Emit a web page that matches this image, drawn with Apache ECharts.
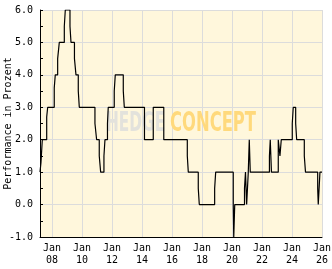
<!DOCTYPE html>
<html>
<head>
<meta charset="utf-8">
<script src="https://cdn.jsdelivr.net/npm/echarts@6/dist/echarts.min.js"></script>
<style>
html,body{margin:0;padding:0;background:#fff;}
#c{width:332px;height:269px;}
</style>
</head>
<body>
<div id="c"></div>
<script>
// Change points of the performance line (value holds until the next date)
const dates = [
  '2007-03-15','2007-04-08','2007-05-10','2007-08-25','2007-09-18',
  '2008-02-25','2008-03-21','2008-05-18','2008-06-27','2008-10-27','2008-11-20',
  '2009-03-14','2009-04-08','2009-07-01','2009-08-07','2009-10-02','2009-10-27',
  '2010-11-12','2010-12-23','2011-02-25','2011-03-31','2011-06-19','2011-07-14',
  '2011-09-13','2011-10-02','2012-02-25','2012-03-21','2012-10-02','2012-10-27',
  '2014-03-02','2014-10-02','2015-06-15',
  '2017-01-08','2017-02-01','2017-10-02','2017-10-27',
  '2018-11-05','2018-11-30',
  '2020-02-01','2020-02-13','2020-03-08','2020-11-01','2020-11-25','2020-12-23',
  '2021-02-01','2021-02-25','2021-03-21',
  '2022-07-01','2022-07-21','2022-08-19',
  '2023-02-01','2023-03-14','2023-04-15',
  '2024-01-08','2024-02-01','2024-03-31','2024-04-24','2024-10-27','2024-11-25',
  '2025-09-18','2025-10-02','2025-11-12','2026-01-01'
];
const values = [
  1.0, 1.3, 2.0, 2.7, 3.0,
  3.6, 4.0, 4.5, 5.0, 5.5, 6.0,
  5.5, 5.0, 4.5, 4.0, 3.5, 3.0,
  2.5, 2.0, 1.5, 1.0, 1.5, 2.0,
  2.5, 3.0, 3.5, 4.0, 3.5, 3.0,
  2.0, 3.0, 2.0,
  1.5, 1.0, 0.5, 0.0,
  0.5, 1.0,
  0.0, -1.0, 0.0, 0.5, 1.0, 0.0,
  1.0, 2.0, 1.0,
  1.5, 2.0, 1.0,
  2.0, 1.5, 2.0,
  2.5, 3.0, 2.5, 2.0, 1.5, 1.0,
  0.5, 0.0, 1.0, 1.0
];
const xTicks = ['2008-01-01','2010-01-01','2012-01-01','2014-01-01','2016-01-01',
  '2018-01-01','2020-01-01','2022-01-01','2024-01-01','2026-01-01'];
const xStart = '2007-03-15', xEnd = '2026-01-01';
const yMin = -1, yMax = 6;
const yTitle = 'Performance in Prozent';
const watermark1 = 'HEDGE';
const watermark2 = 'CONCEPT';

function ts(s) { const p = s.split('-').map(Number); return Date.UTC(p[0], p[1] - 1, p[2]); }

const chart = echarts.init(document.getElementById('c'), null, {renderer: 'canvas'});
const mono = 'DejaVu Sans Mono';
const data = dates.map((d, i) => [ts(d), values[i]]);
const tickVals = xTicks.map(ts);

chart.setOption({
  animation: false,
  backgroundColor: '#ffffff',
  grid: {
    left: 40, top: 10, right: 10, bottom: 32,
    outerBoundsMode: 'none', containLabel: false,
    show: true, backgroundColor: '#fff7dc', borderWidth: 0
  },
  graphic: [{
    type: 'text', z: 1, left: 106, top: 111, scaleX: 0.59,
    style: { text: watermark1, font: 'bold 26px "DejaVu Sans"', fill: '#e3e2dc' }
  }, {
    type: 'text', z: 1, left: 170, top: 111, scaleX: 0.63,
    style: { text: watermark2, font: 'bold 26px "DejaVu Sans"', fill: '#ffd97c' }
  }],
  xAxis: {
    type: 'value',
    min: ts(xStart), max: ts(xEnd),
    axisLine: { show: true, onZero: false, lineStyle: { color: '#000', width: 1 } },
    axisTick: { show: false, customValues: tickVals },
    splitLine: { show: true, lineStyle: { color: '#dcdcdc', width: 1 } },
    axisLabel: {
      customValues: tickVals,
      color: '#000', fontFamily: mono, fontSize: 10, lineHeight: 12, margin: 5,
      hideOverlap: false, showMinLabel: true, showMaxLabel: true,
      formatter: function (v) {
        const y = new Date(v).getUTCFullYear();
        return 'Jan\n' + String(y).slice(2);
      }
    }
  },
  yAxis: {
    type: 'value', min: yMin, max: yMax, interval: 1,
    name: yTitle, nameLocation: 'middle', nameGap: 27, nameMoveOverlap: false,
    nameTextStyle: { color: '#000', fontFamily: mono, fontSize: 10 },
    axisLine: { show: true, lineStyle: { color: '#000', width: 1 } },
    axisTick: { show: true, inside: true, length: 3, lineStyle: { color: '#000' } },
    minorTick: { show: true, splitNumber: 2, length: 3, lineStyle: { color: '#000' } },
    splitLine: { show: true, lineStyle: { color: '#dcdcdc', width: 1 } },
    axisLabel: {
      color: '#000', fontFamily: mono, fontSize: 10, margin: 7,
      formatter: v => v.toFixed(1)
    }
  },
  series: [{
    type: 'line', step: 'end', data: data, showSymbol: false, symbol: 'none',
    z: 3, lineStyle: { color: '#000', width: 1.2 }
  }]
});
</script>
</body>
</html>
